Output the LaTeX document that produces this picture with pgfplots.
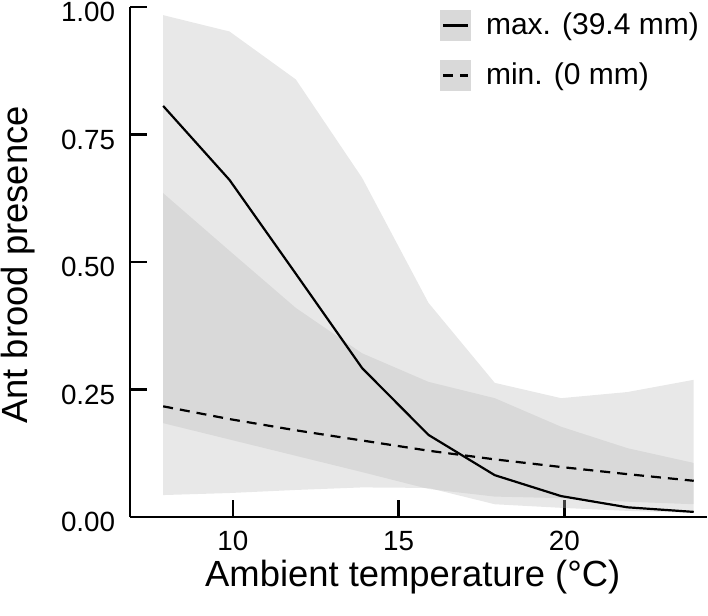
\documentclass[border=0pt]{standalone}
\usepackage{pgfplots}
\pgfplotsset{compat=1.18}
\usepackage{fontspec}
\setmainfont{Liberation Sans}
\definecolor{bandfill}{RGB}{189,189,189}
\definecolor{keyfill}{RGB}{217,217,217}
\begin{document}
\begin{tikzpicture}
\begin{axis}[
  name=ax,
  scale only axis,
  width=288.5pt, height=255pt,
  xmin=6.9, xmax=24.3, ymin=0, ymax=1,
  axis lines=left,
  axis line style={-, line width=1.2pt},
  every tick/.style={black, line width=1.2pt},
  tick align=inside,
  major tick length=8.3pt,
  xtick={10,15,20},
  ytick={0,0.25,0.5,0.75,1},
  yticklabels={0.00,0.25,0.50,0.75,1.00},
  /pgf/number format/assume math mode=true,
  ticklabel style={font=\fontsize{13.9}{16}\selectfont},
  xticklabel style={yshift=-3.5pt},
  yticklabel style={xshift=-3.9pt, yshift=-2.5pt},
  xlabel={Ambient temperature (°C)},
  ylabel={Ant brood presence},
  label style={font=\fontsize{18.2}{22}\selectfont},
  xlabel style={at={(axis description cs:0.49,-0.137)}, anchor=base},
  ylabel style={at={(axis description cs:-0.1785,0.494)}, anchor=base},
  legend image code/.code={
    \fill[keyfill, draw=none, solid, opacity=1] (0pt,-7.75pt) rectangle (15.5pt,7.75pt);
    \draw[#1] (1.5pt,0pt) -- (14pt,0pt);
  },
  legend cell align=left,
  legend style={at={(axis description cs:0.5373,0.994)}, anchor=north west,
    draw=none, fill=none, inner sep=0pt, outer sep=0pt,
    font=\fontsize{15}{18}\selectfont,
    row sep=9.5pt, column sep=7.5pt, nodes={inner sep=0pt}},
]
% max band (39.4 mm)
\addplot[draw=none, fill=bandfill, fill opacity=0.35, forget plot] coordinates {
  (7.9,0.984)(9.9,0.952)(11.9,0.858)(13.9,0.665)(15.9,0.420)(17.9,0.263)(19.9,0.233)(21.9,0.245)(23.9,0.269)
  (23.9,0.008)(21.9,0.012)(19.9,0.018)(17.9,0.025)(15.9,0.057)(13.9,0.058)(11.9,0.053)(9.9,0.047)(7.9,0.043)
} -- cycle;
% min band (0 mm)
\addplot[draw=none, fill=bandfill, fill opacity=0.35, forget plot] coordinates {
  (7.9,0.635)(9.9,0.522)(11.9,0.410)(13.9,0.321)(15.9,0.265)(17.9,0.233)(19.9,0.177)(21.9,0.135)(23.9,0.106)
  (23.9,0.025)(21.9,0.030)(19.9,0.037)(17.9,0.040)(15.9,0.055)(13.9,0.088)(11.9,0.120)(9.9,0.152)(7.9,0.184)
} -- cycle;
% max line
\addplot[black, line width=1.1pt] coordinates {
  (7.9,0.806)(9.9,0.661)(11.9,0.477)(13.9,0.292)(15.9,0.161)(17.9,0.082)(19.9,0.041)(21.9,0.019)(23.9,0.010)
};
\addlegendentry{max. (39.4 mm)}
% min line
\addplot[black, line width=1.1pt, dash pattern=on 5pt off 3.5pt] coordinates {
  (7.9,0.217)(9.9,0.192)(11.9,0.170)(13.9,0.150)(15.9,0.130)(17.9,0.113)(19.9,0.098)(21.9,0.084)(23.9,0.071)
};
\addlegendentry{min. (0 mm)}
\end{axis}
\pgfresetboundingbox
\path (ax.south west) ++(-65pt,-49.5pt) rectangle ++(354pt,308pt);
\end{tikzpicture}
\end{document}
